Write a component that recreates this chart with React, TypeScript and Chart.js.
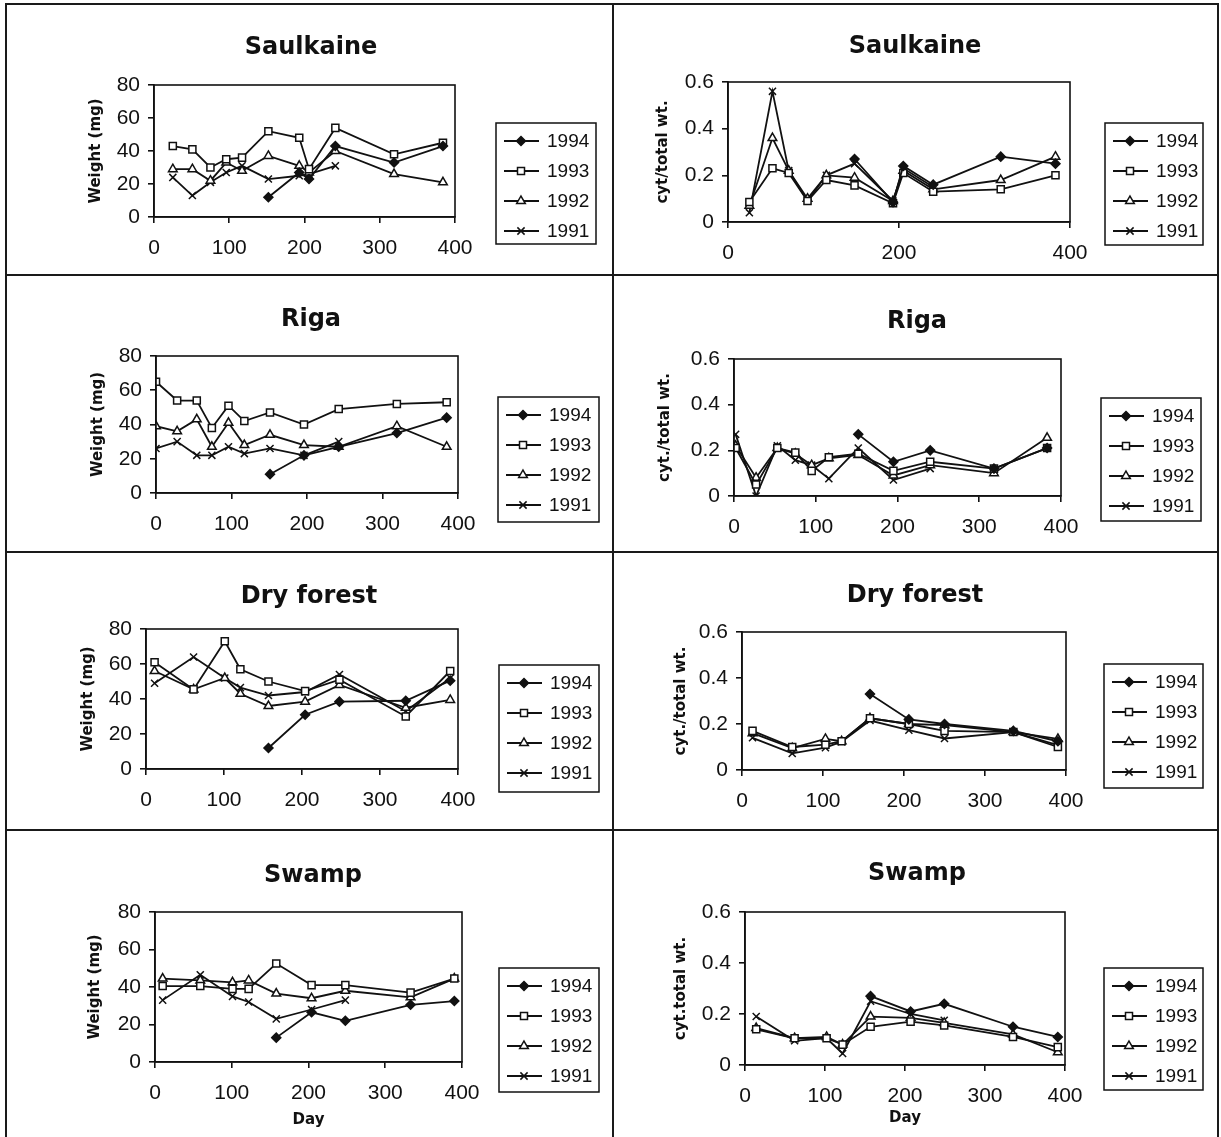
import React, { useEffect, useRef } from "react";
import { Chart, registerables } from "chart.js";

Chart.register(...registerables);

// ---- Sampling days and measured values, one set per panel ----
const YEARS = ["1994", "1993", "1992", "1991"];

// Saulkaine – body weight (mg)
const saulWtDays = [25, 51, 75, 96, 117, 152, 193, 206, 241, 319, 384];
const saulWt1994 = [null, null, null, null, null, 12, 27, 23, 43, 33, 43];
const saulWt1993 = [43, 41, 30, 35, 36, 52, 48, 29, 54, 38, 45];
const saulWt1992 = [29, 29, 22, 33, 28, 37, 31, 27, 40, 26, 21];
const saulWt1991 = [24, 13, 21, 27, 31, 23, 25, 26, 31, null, null];

// Saulkaine – cyt/total wt.
const saulCytDays = [25, 52, 71, 93, 115, 148, 193, 205, 240, 319, 383];
const saulCyt1994 = [null, null, null, null, null, 0.27, 0.085, 0.24, 0.16, 0.28, 0.25];
const saulCyt1993 = [0.086, 0.23, 0.21, 0.09, 0.18, 0.157, 0.08, 0.21, 0.13, 0.14, 0.2];
const saulCyt1992 = [0.07, 0.36, 0.22, 0.1, 0.2, 0.19, 0.09, 0.22, 0.14, 0.18, 0.28];
const saulCyt1991 = [0.04, 0.56, 0.22, 0.09, 0.2, 0.25, 0.09, 0.23, 0.15, null, null];

// Riga – body weight (mg)
const rigaWtDays = [0, 28, 54, 74, 96, 117, 151, 196, 242, 319, 385];
const rigaWt1994 = [null, null, null, null, null, null, 11, 22, 27, 35, 44];
const rigaWt1993 = [65, 54, 54, 38, 51, 42, 47, 40, 49, 52, 53];
const rigaWt1992 = [39, 36, 43, 27, 41, 28, 34, 28, 27, 39, 27];
const rigaWt1991 = [26, 30, 22, 22, 27, 23, 26, 22, 30, null, null];

// Riga – cyt./total wt.
const rigaCytDays = [2, 27, 53, 75, 95, 116, 152, 195, 240, 318, 383];
const rigaCyt1994 = [null, null, null, null, null, null, 0.27, 0.15, 0.2, 0.12, 0.21];
const rigaCyt1993 = [0.21, 0.05, 0.21, 0.19, 0.11, 0.17, 0.185, 0.11, 0.15, 0.12, 0.21];
const rigaCyt1992 = [0.22, 0.08, 0.21, 0.185, 0.135, 0.165, 0.18, 0.09, 0.135, 0.1, 0.255];
const rigaCyt1991 = [0.27, 0.0, 0.22, 0.157, 0.135, 0.076, 0.21, 0.07, 0.12, null, null];

// Dry forest – body weight (mg)
const dryWtDays = [11, 61, 101, 121, 157, 204, 248, 333, 390];
const dryWt1994 = [null, null, null, null, 12, 31, 38.5, 39, 50.5];
const dryWt1993 = [61, 45.5, 73, 57, 50, 44.5, 51, 30, 56];
const dryWt1992 = [56, 45.5, 52, 43, 36, 38.5, 48, 35, 39.5];
const dryWt1991 = [49, 64, 52, 46.5, 42, 44, 54, 33, 52];

// Dry forest – cyt./total wt.
const dryCytDays = [13, 62, 103, 123, 158, 206, 250, 335, 390];
const dryCyt1994 = [null, null, null, null, 0.33, 0.22, 0.2, 0.17, 0.125];
const dryCyt1993 = [0.17, 0.1, 0.11, 0.125, 0.225, 0.2, 0.17, 0.165, 0.1];
const dryCyt1992 = [0.16, 0.095, 0.135, 0.125, 0.225, 0.2, 0.195, 0.165, 0.135];
const dryCyt1991 = [0.14, 0.072, 0.097, 0.123, 0.215, 0.173, 0.137, 0.165, 0.108];

// Swamp – body weight (mg)
const swampWtDays = [10, 59, 101, 122, 158, 204, 248, 333, 390];
const swampWt1994 = [null, null, null, null, 13, 26.5, 22, 30.5, 32.5];
const swampWt1993 = [40.5, 40.5, 39, 39, 52.5, 41, 41, 37, 44.5];
const swampWt1992 = [44.5, 43.5, 42.5, 43.5, 36.5, 34, 38, 34.5, 44.5];
const swampWt1991 = [33, 46.5, 35, 32, 23, 28, 33, null, null];

// Swamp – cyt.total wt.
const swampCytDays = [14, 62, 102, 122, 157, 207, 249, 335, 391];
const swampCyt1994 = [null, null, null, null, 0.27, 0.21, 0.24, 0.15, 0.11];
const swampCyt1993 = [0.14, 0.105, 0.105, 0.08, 0.15, 0.17, 0.155, 0.11, 0.07];
const swampCyt1992 = [0.145, 0.105, 0.11, 0.08, 0.19, 0.185, 0.165, 0.12, 0.05];
const swampCyt1991 = [0.19, 0.095, 0.105, 0.045, 0.25, 0.2, 0.175, null, null];

// ---- Styling ----
const INK = "#111";
const TITLE_FONT = 'bold 24px "DejaVu Sans", sans-serif';
const AXIS_TITLE_FONT = 'bold 15px "DejaVu Sans", sans-serif';
const LEGEND_FONT = '19px "Liberation Sans", Arial, sans-serif';
const TICK_FAMILY = '"Liberation Sans", Arial, sans-serif';
const LINE_W = 1.8;

// fixed room reserved for the tick labels of each axis
const Y_LABEL_ROOM = 60;
const X_LABEL_ROOM = 45;

type Marker = "diamond" | "square" | "triangle" | "cross";
const MARKERS: Marker[] = ["diamond", "square", "triangle", "cross"];

const markerStyle: Record<Marker, any> = {
  diamond: { pointStyle: "rectRot", pointRadius: 4.5, pointBackgroundColor: INK },
  square: { pointStyle: "rect", pointRadius: 5, pointBackgroundColor: "#fff" },
  triangle: { pointStyle: "triangle", pointRadius: 5, pointBackgroundColor: "#fff" },
  cross: { pointStyle: "crossRot", pointRadius: 5, pointBackgroundColor: INK },
};

function drawMarker(ctx: CanvasRenderingContext2D, m: Marker, x: number, y: number) {
  ctx.save();
  ctx.strokeStyle = INK;
  ctx.lineWidth = 1.5;
  ctx.beginPath();
  if (m === "diamond") {
    const r = 4.5;
    ctx.moveTo(x, y - r);
    ctx.lineTo(x + r, y);
    ctx.lineTo(x, y + r);
    ctx.lineTo(x - r, y);
    ctx.closePath();
    ctx.fillStyle = INK;
    ctx.fill();
    ctx.stroke();
  } else if (m === "square") {
    const s = 3.5;
    ctx.rect(x - s, y - s, 2 * s, 2 * s);
    ctx.fillStyle = "#fff";
    ctx.fill();
    ctx.stroke();
  } else if (m === "triangle") {
    const r = 5;
    ctx.moveTo(x, y - r);
    ctx.lineTo(x + r * 0.866, y + r * 0.5);
    ctx.lineTo(x - r * 0.866, y + r * 0.5);
    ctx.closePath();
    ctx.fillStyle = "#fff";
    ctx.fill();
    ctx.stroke();
  } else {
    const r = 3.6;
    ctx.moveTo(x - r, y - r);
    ctx.lineTo(x + r, y + r);
    ctx.moveTo(x + r, y - r);
    ctx.lineTo(x - r, y + r);
    ctx.stroke();
  }
  ctx.restore();
}

type Rect = { x: number; y: number; w: number; h: number };
type PanelCfg = {
  box: Rect; // canvas placement on the page
  plot: { l: number; t: number; r: number; b: number };
  title: string;
  titleX: number;
  titleBase: number;
  yTitle: string;
  yTitleX: number;
  xTitleBase?: number;
  yMax: number;
  yStep: number;
  xStep: number;
  days: number[];
  values: (number | null)[][];
  legend: Rect;
};

const LEFT_COL = { x: 8, w: 603 };
const RIGHT_COL = { x: 615, w: 601 };
const ROWS = [
  { y: 6, h: 267 },
  { y: 277, h: 273 },
  { y: 554, h: 274 },
  { y: 832, h: 305 },
];

const panels: PanelCfg[] = [
  {
    box: { x: LEFT_COL.x, y: ROWS[0].y, w: LEFT_COL.w, h: ROWS[0].h },
    plot: { l: 154, t: 85, r: 455, b: 217 },
    title: "Saulkaine", titleX: 311, titleBase: 54,
    yTitle: "Weight (mg)", yTitleX: 96,
    yMax: 80, yStep: 20, xStep: 100,
    days: saulWtDays, values: [saulWt1994, saulWt1993, saulWt1992, saulWt1991],
    legend: { x: 496, y: 123, w: 100, h: 121 },
  },
  {
    box: { x: RIGHT_COL.x, y: ROWS[0].y, w: RIGHT_COL.w, h: ROWS[0].h },
    plot: { l: 728, t: 82, r: 1070, b: 222 },
    title: "Saulkaine", titleX: 915, titleBase: 53,
    yTitle: "cyt/total wt.", yTitleX: 663,
    yMax: 0.6, yStep: 0.2, xStep: 200,
    days: saulCytDays, values: [saulCyt1994, saulCyt1993, saulCyt1992, saulCyt1991],
    legend: { x: 1105, y: 123, w: 98, h: 122 },
  },
  {
    box: { x: LEFT_COL.x, y: ROWS[1].y, w: LEFT_COL.w, h: ROWS[1].h },
    plot: { l: 156, t: 356, r: 458, b: 493 },
    title: "Riga", titleX: 311, titleBase: 326,
    yTitle: "Weight (mg)", yTitleX: 98,
    yMax: 80, yStep: 20, xStep: 100,
    days: rigaWtDays, values: [rigaWt1994, rigaWt1993, rigaWt1992, rigaWt1991],
    legend: { x: 498, y: 397, w: 101, h: 125 },
  },
  {
    box: { x: RIGHT_COL.x, y: ROWS[1].y, w: RIGHT_COL.w, h: ROWS[1].h },
    plot: { l: 734, t: 359, r: 1061, b: 496 },
    title: "Riga", titleX: 917, titleBase: 328,
    yTitle: "cyt./total wt.", yTitleX: 665,
    yMax: 0.6, yStep: 0.2, xStep: 100,
    days: rigaCytDays, values: [rigaCyt1994, rigaCyt1993, rigaCyt1992, rigaCyt1991],
    legend: { x: 1101, y: 398, w: 100, h: 123 },
  },
  {
    box: { x: LEFT_COL.x, y: ROWS[2].y, w: LEFT_COL.w, h: ROWS[2].h },
    plot: { l: 146, t: 629, r: 458, b: 769 },
    title: "Dry forest", titleX: 309, titleBase: 603,
    yTitle: "Weight (mg)", yTitleX: 88,
    yMax: 80, yStep: 20, xStep: 100,
    days: dryWtDays, values: [dryWt1994, dryWt1993, dryWt1992, dryWt1991],
    legend: { x: 499, y: 665, w: 100, h: 127 },
  },
  {
    box: { x: RIGHT_COL.x, y: ROWS[2].y, w: RIGHT_COL.w, h: ROWS[2].h },
    plot: { l: 742, t: 632, r: 1066, b: 770 },
    title: "Dry forest", titleX: 915, titleBase: 602,
    yTitle: "cyt./total wt.", yTitleX: 681,
    yMax: 0.6, yStep: 0.2, xStep: 100,
    days: dryCytDays, values: [dryCyt1994, dryCyt1993, dryCyt1992, dryCyt1991],
    legend: { x: 1104, y: 664, w: 99, h: 124 },
  },
  {
    box: { x: LEFT_COL.x, y: ROWS[3].y, w: LEFT_COL.w, h: ROWS[3].h },
    plot: { l: 155, t: 912, r: 462, b: 1062 },
    title: "Swamp", titleX: 313, titleBase: 882,
    yTitle: "Weight (mg)", yTitleX: 95, xTitleBase: 1124,
    yMax: 80, yStep: 20, xStep: 100,
    days: swampWtDays, values: [swampWt1994, swampWt1993, swampWt1992, swampWt1991],
    legend: { x: 499, y: 968, w: 100, h: 124 },
  },
  {
    box: { x: RIGHT_COL.x, y: ROWS[3].y, w: RIGHT_COL.w, h: ROWS[3].h },
    plot: { l: 745, t: 912, r: 1065, b: 1065 },
    title: "Swamp", titleX: 917, titleBase: 880,
    yTitle: "cyt.total wt.", yTitleX: 681, xTitleBase: 1122,
    yMax: 0.6, yStep: 0.2, xStep: 100,
    days: swampCytDays, values: [swampCyt1994, swampCyt1993, swampCyt1992, swampCyt1991],
    legend: { x: 1104, y: 968, w: 99, h: 122 },
  },
];

function Panel({ cfg }: { cfg: PanelCfg }) {
  const ref = useRef<HTMLCanvasElement>(null);

  useEffect(() => {
    const canvas = ref.current;
    if (!canvas) return;
    const ox = cfg.box.x;
    const oy = cfg.box.y;

    const decor = {
      id: "panelDecor",
      afterDraw(chart: any) {
        const ctx: CanvasRenderingContext2D = chart.ctx;
        const a = chart.chartArea;
        ctx.save();
        ctx.strokeStyle = INK;
        ctx.fillStyle = INK;

        // plot frame
        ctx.lineWidth = 1.6;
        ctx.strokeRect(a.left, a.top, a.right - a.left, a.bottom - a.top);

        // title
        ctx.font = TITLE_FONT;
        ctx.textAlign = "center";
        ctx.textBaseline = "alphabetic";
        ctx.fillText(cfg.title, cfg.titleX - ox, cfg.titleBase - oy);

        // rotated y-axis title
        ctx.save();
        ctx.translate(cfg.yTitleX - ox, (a.top + a.bottom) / 2);
        ctx.rotate(-Math.PI / 2);
        ctx.font = AXIS_TITLE_FONT;
        ctx.textAlign = "center";
        ctx.textBaseline = "middle";
        ctx.fillText(cfg.yTitle, 0, 0);
        ctx.restore();

        // x-axis title on the bottom row
        if (cfg.xTitleBase !== undefined) {
          ctx.font = AXIS_TITLE_FONT;
          ctx.textAlign = "center";
          ctx.textBaseline = "alphabetic";
          ctx.fillText("Day", (a.left + a.right) / 2, cfg.xTitleBase - oy);
        }

        // boxed legend
        const lg = cfg.legend;
        const lx = lg.x - ox;
        const ly = lg.y - oy;
        ctx.lineWidth = 1.5;
        ctx.strokeRect(lx, ly, lg.w, lg.h);
        ctx.font = LEGEND_FONT;
        ctx.textAlign = "left";
        ctx.textBaseline = "middle";
        YEARS.forEach((yr, i) => {
          const cy = ly + 18 + 30 * i;
          ctx.lineWidth = LINE_W;
          ctx.beginPath();
          ctx.moveTo(lx + 8, cy);
          ctx.lineTo(lx + 43, cy);
          ctx.stroke();
          drawMarker(ctx, MARKERS[i], lx + 25, cy);
          ctx.fillStyle = INK;
          ctx.fillText(yr, lx + 51, cy + 1);
        });
        ctx.restore();
      },
    };

    const datasets = YEARS.map((yr, i) => ({
      label: yr,
      data: cfg.days.map((d, j) => ({ x: d, y: cfg.values[i][j] })),
      borderColor: INK,
      borderWidth: LINE_W,
      pointBorderColor: INK,
      pointBorderWidth: 1.5,
      tension: 0,
      fill: false,
      spanGaps: false,
      ...markerStyle[MARKERS[i]],
    }));

    const axisCommon = {
      grid: { drawOnChartArea: false, drawTicks: true, tickLength: 6, color: INK, lineWidth: 1.6 },
      border: { display: true, color: INK, width: 1.6 },
    };

    const chart = new Chart(canvas, {
      type: "line",
      data: { datasets },
      options: {
        responsive: false,
        animation: false,
        devicePixelRatio: 1,
        layout: {
          padding: {
            left: cfg.plot.l - ox - Y_LABEL_ROOM,
            top: cfg.plot.t - oy,
            right: ox + cfg.box.w - cfg.plot.r,
            bottom: oy + cfg.box.h - cfg.plot.b - X_LABEL_ROOM,
          },
        },
        plugins: {
          legend: { display: false },
          title: { display: false },
          tooltip: { enabled: false },
        },
        scales: {
          x: {
            type: "linear",
            min: 0,
            max: 400,
            ...axisCommon,
            ticks: {
              stepSize: cfg.xStep,
              autoSkip: false,
              maxRotation: 0,
              padding: 13,
              color: INK,
              font: { family: TICK_FAMILY, size: 21 },
            },
            afterFit: (s: any) => {
              s.height = X_LABEL_ROOM;
            },
          },
          y: {
            type: "linear",
            min: 0,
            max: cfg.yMax,
            ...axisCommon,
            ticks: {
              stepSize: cfg.yStep,
              padding: 8,
              color: INK,
              font: { family: TICK_FAMILY, size: 21 },
              callback: (v: any) => String(Math.round(Number(v) * 10) / 10),
            },
            afterFit: (s: any) => {
              s.width = Y_LABEL_ROOM;
            },
          },
        },
      },
      plugins: [decor],
    } as any);

    return () => chart.destroy();
  }, [cfg]);

  return (
    <canvas
      ref={ref}
      width={cfg.box.w}
      height={cfg.box.h}
      style={{ position: "absolute", left: cfg.box.x, top: cfg.box.y, width: cfg.box.w, height: cfg.box.h }}
    />
  );
}

// Frame lines that split the page into the eight panels
const hLines = [3, 274, 551, 829];
const vLines = [5, 612, 1217];

export default function App() {
  return (
    <div
      style={{
        position: "absolute",
        left: 0,
        top: 0,
        width: 1221,
        height: 1137,
        background: "#fff",
        overflow: "hidden",
      }}
    >
      {panels.map((p, i) => (
        <Panel key={i} cfg={p} />
      ))}
      {hLines.map((y) => (
        <div key={"h" + y} style={{ position: "absolute", left: 5, top: y, width: 1214, height: 2, background: "#1a1a1a" }} />
      ))}
      {vLines.map((x) => (
        <div key={"v" + x} style={{ position: "absolute", left: x, top: 3, width: 2, height: 1134, background: "#1a1a1a" }} />
      ))}
    </div>
  );
}
